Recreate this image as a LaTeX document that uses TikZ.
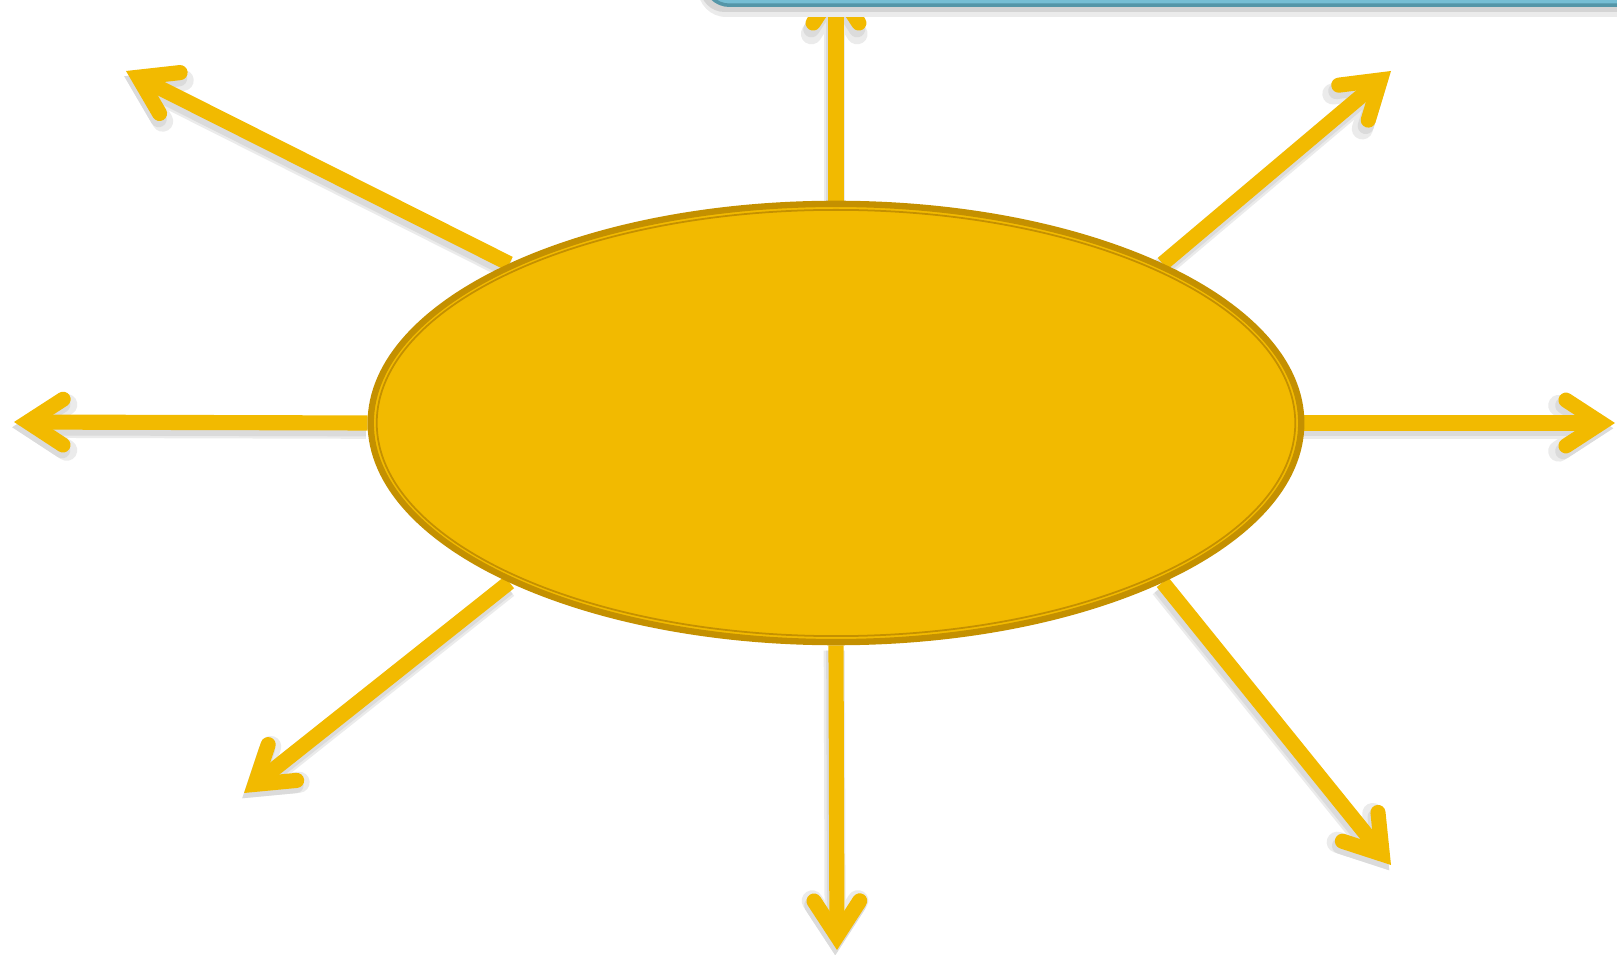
\documentclass[tikz,border=0pt]{standalone}
\usetikzlibrary{arrows.meta,shapes.geometric}
\definecolor{sunfill}{RGB}{242,186,0}
\definecolor{sunedge}{RGB}{196,144,0}
\definecolor{bannerfill}{RGB}{118,190,212}
\definecolor{banneredge}{RGB}{84,150,168}
\pgfdeclarelayer{bg}
\pgfsetlayers{bg,main}

\begin{document}
\begin{tikzpicture}[
  x=0.01cm, y=-0.01cm,
  tip/.style={-{Straight Barb[length=10pt, width=13pt, line cap=round, line join=miter]}},
  ray/.style={tip, draw=sunfill, line width=4.3pt},
  rayshade/.style={tip, draw=black!#1, transform canvas={shift={(-0.5pt,-1.5pt)}}},
  sun/.style={ellipse, draw=sunedge, fill=sunfill, line width=1.8pt,
    minimum width=9.3cm, minimum height=4.38cm, inner sep=0pt},
  banner/.style={draw=banneredge, fill=bannerfill, line width=1pt,
    rounded corners=7pt, minimum width=12cm, minimum height=1.5cm}]
\useasboundingbox (0,0) rectangle (1617,955);
\clip (0,0) rectangle (1617,955);

% tips of the rays
\coordinate (n)  at (836,-26);
\coordinate (s)  at (837,950);
\coordinate (w)  at (14,422);
\coordinate (e)  at (1615,423);
\coordinate (nw) at (126,71);
\coordinate (ne) at (1391,71);
\coordinate (sw) at (244,793);
\coordinate (se) at (1391,865);

\node[sun] (core) at (836,423) {};
\draw[sunedge, line width=0.5pt] (core.center) ellipse [x radius=4.59cm, y radius=2.13cm];

\begin{pgfonlayer}{bg}
\foreach \a/\t in {90/n, 270/s, 180/w, 0/e, 154/nw, 26/ne, 206/sw, 334/se} {
  \draw[rayshade=8, line width=6pt] (core.\a) -- (\t);
  \draw[rayshade=14, line width=4.6pt] (core.\a) -- (\t);
  \draw[ray] (core.\a) -- (\t);
}
\end{pgfonlayer}

% box at the top edge
\fill[black!8, rounded corners=8pt] (698,17) rectangle (1700,-100);
\fill[black!17, rounded corners=7pt] (700,12) rectangle (1700,-100);
\node[banner, anchor=south west] (top) at (703,7) {};
\end{tikzpicture}
\end{document}
